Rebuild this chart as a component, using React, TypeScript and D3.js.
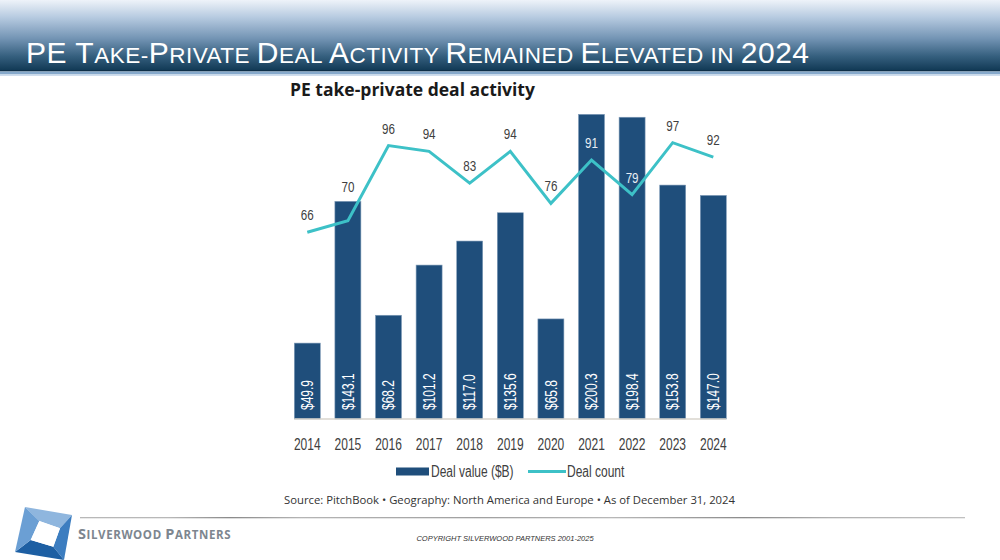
import React from "react";
import * as d3 from "d3";

const years = ["2014","2015","2016","2017","2018","2019","2020","2021","2022","2023","2024"];
const dealValue = [49.9,143.1,68.2,101.2,117.0,135.6,65.8,200.3,198.4,153.8,147.0];
const dealCount = [66,70,96,94,83,94,76,91,79,97,92];
const legendLabels = ["Deal value ($B)","Deal count"];
const chartTitle = "PE take-private deal activity";
const sourceText = "Source: PitchBook  •  Geography: North America and Europe  •  As of December 31, 2024";

const SANS = "'Liberation Sans',Arial,sans-serif";
const SX = 0.75;
const BAR = "#1f4e7b";
const LINE = "#3dc1c7";

function NText(props: { x: number; y: number; size: number; fill: string; anchor?: string; rotate?: number; baseline?: string; children: React.ReactNode }) {
  const { x, y, size, fill, anchor = "start", rotate = 0, baseline = "auto", children } = props;
  return (
    <text transform={`translate(${x},${y}) rotate(${rotate}) scale(${SX},1)`} fontFamily={SANS} fontSize={size}
      fill={fill} textAnchor={anchor} dominantBaseline={baseline}>
      {children}
    </text>
  );
}

export default function App() {
  const x = d3.scaleBand<string>().domain(years).range([294.3, 726.3]).paddingInner(0.36).paddingOuter(0);
  const y = d3.scaleLinear().domain([0, 210]).range([419, 99.6]);
  const y2 = d3.scaleLinear().domain([0, 100]).range([423, 134]);
  const cx = (yr: string) => (x(yr) as number) + x.bandwidth() / 2;

  const line = d3.line<number>().x((_, i) => cx(years[i])).y((d) => y2(d));

  const titleParts: [string, boolean][] = [
    ["PE T", true], ["AKE-", false], ["P", true], ["RIVATE ", false], ["D", true], ["EAL ", false],
    ["A", true], ["CTIVITY ", false], ["R", true], ["EMAINED ", false], ["E", true], ["LEVATED ", false],
    ["IN ", false], ["2024", true],
  ];

  return (
    <svg width={1000} height={560} style={{ position: "absolute", left: 0, top: 0, background: "#fff" }}>
      <defs>
        <linearGradient id="hdr" x1="0" y1="0" x2="0" y2="1">
          <stop offset="0" stopColor="#eef3f9" />
          <stop offset="0.25" stopColor="#b6cae0" />
          <stop offset="0.55" stopColor="#7394b4" />
          <stop offset="0.8" stopColor="#36607f" />
          <stop offset="1" stopColor="#123a56" />
        </linearGradient>
        <linearGradient id="rule" x1="0" y1="0" x2="1" y2="0">
          <stop offset="0" stopColor="#b8b8b8" />
          <stop offset="0.1" stopColor="#b8b8b8" />
          <stop offset="0.17" stopColor="#8a8a8a" />
          <stop offset="0.25" stopColor="#b5b5b5" />
          <stop offset="0.45" stopColor="#a0a0a0" />
          <stop offset="0.6" stopColor="#b8b8b8" />
          <stop offset="0.75" stopColor="#8c8c8c" />
          <stop offset="0.85" stopColor="#b0b0b0" />
          <stop offset="1" stopColor="#c0c0c0" />
        </linearGradient>
      </defs>

      {/* Header */}
      <rect x={0} y={0} width={1000} height={70} fill="url(#hdr)" />
      <rect x={0} y={70} width={1000} height={1.5} fill="#0e2f47" />
      <rect x={0} y={71.5} width={1000} height={3} fill="#86a9cb" />
      <rect x={0} y={74.5} width={1000} height={1.5} fill="#cfdded" />
      <text x={26} y={62.5} fill="#ffffff" fontFamily={SANS} letterSpacing={0.5}>
        {titleParts.map(([t, big], i) => (
          <tspan key={i} fontSize={big ? 30 : 22.5}>{t}</tspan>
        ))}
      </text>

      {/* Chart title */}
      <text x={290} y={96} fontFamily="'Open Sans',sans-serif" fontWeight={700} fontSize={17.5} fill="#1a1a1a">
        {chartTitle}
      </text>

      {/* Bars */}
      {years.map((yr, i) => (
        <rect key={yr} x={x(yr)} y={y(dealValue[i])} width={x.bandwidth()} height={y(0) - y(dealValue[i])}
          fill={BAR} stroke="#7f9bb8" strokeWidth={0.6} />
      ))}
      {/* Bar value labels */}
      {years.map((yr, i) => (
        <NText key={"v" + yr} x={cx(yr)} y={y(0) - 9} rotate={-90} size={16} fill="#ffffff" baseline="central">
          {"$" + dealValue[i].toFixed(1)}
        </NText>
      ))}

      {/* Axis line */}
      <line x1={x.range()[0]} x2={x.range()[1]} y1={y(0)} y2={y(0)} stroke="#d8d5cc" strokeWidth={1.5} />
      {years.map((yr) => (
        <NText key={"t" + yr} x={cx(yr)} y={449.5} anchor="middle" size={16} fill="#404040">
          {yr}
        </NText>
      ))}

      {/* Line */}
      <path d={line(dealCount) || ""} fill="none" stroke={LINE} strokeWidth={3} strokeLinejoin="miter" />
      {years.map((yr, i) => {
        const py = y2(dealCount[i]);
        const top = y(dealValue[i]);
        let c = py - 17;
        if (c + 8 > top && c - 8 < top) c = top - 14;
        const inside = c > top;
        return (
          <NText key={"c" + yr} x={cx(yr)} y={c} anchor="middle" baseline="central" size={15.5}
            fill={inside ? "#e8eef5" : "#404040"}>
            {dealCount[i]}
          </NText>
        );
      })}

      {/* Legend */}
      <rect x={396} y={467.5} width={33} height={8} fill={BAR} />
      <NText x={431} y={471.5} baseline="central" size={16} fill="#404040">{legendLabels[0]}</NText>
      <line x1={528} x2={566} y1={471.5} y2={471.5} stroke={LINE} strokeWidth={3} />
      <NText x={567} y={471.5} baseline="central" size={16} fill="#404040">{legendLabels[1]}</NText>

      {/* Source */}
      <text x={284} y={504} fontFamily="'Open Sans',sans-serif" fontSize={11.5} fill="#333" textLength={451} lengthAdjust="spacingAndGlyphs">
        {sourceText}
      </text>

      {/* Footer rule */}
      <rect x={80} y={517} width={885} height={1.3} fill="url(#rule)" />

      {/* Logo */}
      <g>
        <polygon points="25,507 72,515 60,528.3 39.3,521" fill="#8fb6de" />
        <polygon points="72,515 64,560 53.3,546.7 60,528.3" fill="#3c7dc0" />
        <polygon points="64,560 15,552 30.7,540 53.3,546.7" fill="#1d5fa3" />
        <polygon points="15,552 25,507 39.3,521 30.7,540" fill="#6b9fd4" />
        <polygon points="39.3,521 60,528.3 53.3,546.7 30.7,540" fill="#ffffff" />
      </g>
      <text x={78} y={538.5} fontFamily="'Open Sans',sans-serif" fontWeight={700} fill="#7d868f" letterSpacing={0.6}>
        <tspan fontSize={14.5}>S</tspan><tspan fontSize={11.5}>ILVERWOOD </tspan>
        <tspan fontSize={14.5}>P</tspan><tspan fontSize={11.5}>ARTNERS</tspan>
      </text>

      {/* Copyright */}
      <text x={505} y={541} textAnchor="middle" fontFamily={SANS}
        fontStyle="italic" fontSize={7.5} fill="#333">
        COPYRIGHT SILVERWOOD PARTNERS 2001-2025
      </text>
    </svg>
  );
}
